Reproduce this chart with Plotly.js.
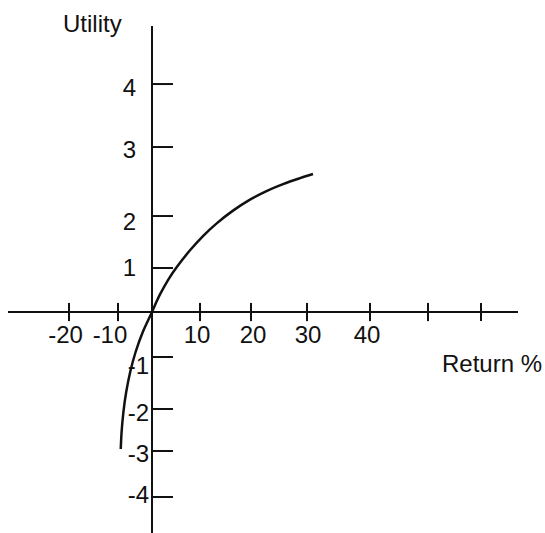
<!DOCTYPE html>
<html>
<head>
<meta charset="utf-8">
<script src="https://cdn.plot.ly/plotly-3.0.1.min.js"></script>
<style>
  html, body { margin: 0; padding: 0; background: #ffffff; }
  #chart { width: 545px; height: 533px; }
</style>
</head>
<body>
<div id="chart"></div>
<script>
// Utility curve: return (%) on x, utility on y
const returnPct = [-6.127, -5.961, -5.608, -5.059, -4.275, -3.216, -1.804, 0,
                   0.784, 1.569, 3.137, 4.902, 7.451, 10.0, 12.745, 15.882,
                   19.216, 22.549, 25.686, 29.02, 31.569];
const utility   = [-2.686, -2.353, -1.961, -1.569, -1.176, -0.784, -0.392, 0,
                   0.18, 0.345, 0.627, 0.886, 1.21, 1.49, 1.743, 1.988,
                   2.204, 2.376, 2.508, 2.625, 2.706];

// Hand-placed tick marks along the return axis (the last two carry no label)
const xTickPos   = [-16.27, -6.67, 9.41, 19.41, 30.39, 42.75, 54.12, 64.51];
const xLabelPos  = [-16.96, -8.24, 8.82, 19.8, 30.59, 42.16];
const xLabels    = ['-20', '-10', '10', '20', '30', '40'];

// Tick marks and labels along the utility axis
const yTickPos   = [4.47, 3.235, 1.882, 0.863, -0.882, -1.902, -2.725, -3.627];
const yPosLabelPos = [4.392, 3.176, 1.765, 0.863];
const yPosLabels   = ['4', '3', '2', '1'];
const yNegLabelPos = [-1.059, -1.98, -2.784, -3.588];
const yNegLabels   = ['-1', '-2', '-3', '-4'];

const xTitle = 'Return %';
const yTitle = 'Utility';

const FONT = 'Arial, "Liberation Sans", sans-serif';
const INK = '#111111';

const W = 545, H = 533;
const margin = { l: 8, r: 27, t: 26, b: 0 };
const xRange = [-28.235, 71.765];
const yRange = [-4.333, 5.608];

// where the axes cross, as fractions of the plot area
const xCross = (0 - xRange[0]) / (xRange[1] - xRange[0]);
const yCross = (0 - yRange[0]) / (yRange[1] - yRange[0]);

const curve = {
  x: returnPct, y: utility,
  type: 'scatter', mode: 'lines',
  line: { color: INK, width: 2.5, shape: 'spline', smoothing: 1 },
  hoverinfo: 'skip', cliponaxis: false
};

// tick marks crossing the return axis
const xTicks = {
  x: xTickPos, y: xTickPos.map(() => 0),
  type: 'scatter', mode: 'markers',
  marker: { symbol: 'line-ns', size: 13, line: { color: INK, width: 2 } },
  hoverinfo: 'skip', cliponaxis: false
};

// tick marks to the right of the utility axis
const yTicks = {
  x: yTickPos.map(() => 2.06), y: yTickPos, yaxis: 'y2',
  type: 'scatter', mode: 'markers',
  marker: { symbol: 'line-ew', size: 15, line: { color: INK, width: 2 } },
  hoverinfo: 'skip', cliponaxis: false
};

const tickFont = { family: FONT, size: 24, color: INK };

const layout = {
  width: W, height: H,
  margin: margin,
  paper_bgcolor: '#ffffff', plot_bgcolor: '#ffffff',
  showlegend: false,
  font: { family: FONT, color: INK, size: 24 },
  xaxis: {
    range: xRange, anchor: 'free', position: yCross,
    showgrid: false, showline: false,
    zeroline: true, zerolinecolor: INK, zerolinewidth: 2,
    ticks: '', tickmode: 'array', tickvals: xLabelPos, ticktext: xLabels,
    tickfont: tickFont, ticklabelstandoff: 6, fixedrange: true
  },
  // positive utility labels sit a little further from the axis
  yaxis: {
    range: yRange, anchor: 'free', position: xCross,
    showgrid: false, showline: false,
    zeroline: true, zerolinecolor: INK, zerolinewidth: 2,
    ticks: '', tickmode: 'array', tickvals: yPosLabelPos, ticktext: yPosLabels,
    tickfont: tickFont, ticklabelstandoff: 16, fixedrange: true
  },
  yaxis2: {
    range: yRange, overlaying: 'y', anchor: 'free', position: xCross, side: 'left',
    showgrid: false, showline: false, zeroline: false,
    ticks: '', tickmode: 'array', tickvals: yNegLabelPos, ticktext: yNegLabels,
    tickfont: tickFont, ticklabelstandoff: 3, fixedrange: true
  },
  annotations: [
    { text: xTitle, x: 66.57, y: -1.01, xref: 'x', yref: 'y',
      xanchor: 'center', yanchor: 'middle', showarrow: false,
      font: { family: FONT, size: 24, color: INK } },
    { text: yTitle, x: -11.76, y: 1.004, xref: 'x', yref: 'paper',
      xanchor: 'center', yanchor: 'middle', showarrow: false,
      font: { family: FONT, size: 24, color: INK } }
  ]
};

Plotly.newPlot('chart', [curve, xTicks, yTicks], layout, { displayModeBar: false, staticPlot: true });
</script>
</body>
</html>
